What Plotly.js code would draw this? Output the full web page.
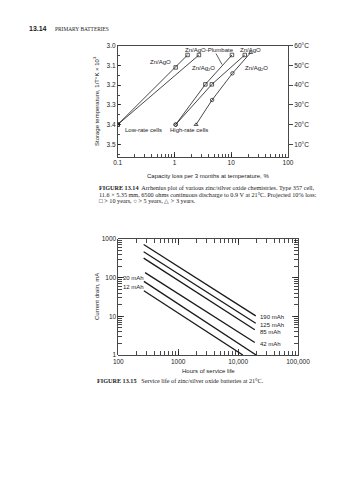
<!DOCTYPE html>
<html><head><meta charset="utf-8">
<script src="https://cdn.plot.ly/plotly-3.0.1.min.js"></script>
<style>html,body{margin:0;padding:0;background:#fff}</style>
</head><body><div id="chart" style="width:358px;height:480px"></div>
<script>
// ---------- FIGURE 13.14 (Arrhenius plot) ----------
const tempTickVals = [3.0, 3.1, 3.2, 3.3, 3.4, 3.5];
const tempTickText = ['3.0', '3.1', '3.2', '3.3', '3.4', '3.5'];
const celsiusTickText = ['60°C', '50°C', '40°C', '30°C', '20°C', '10°C'];
const lossTickVals = [0.1, 1, 10, 100];
const lossTickText = ['0.1', '1', '10', '100'];

const lowAgO_loss = [0.1, 1.05, 1.7];
const lowAgO_temp = [3.40, 3.11, 3.047];
const lowAgO_sym = ['square-open', 'square-open', 'square-open'];

const lowAg2O_loss = [0.1, 2.7];
const lowAg2O_temp = [3.40, 3.047];
const lowAg2O_sym = ['square-open', 'square-open'];

const highPlumbate_loss = [1.05, 3.5, 10.3];
const highPlumbate_temp = [3.40, 3.196, 3.047];
const highPlumbate_sym = ['circle-open', 'square-open', 'square-open'];

const highAgO_loss = [1.05, 4.55, 17.3];
const highAgO_temp = [3.40, 3.196, 3.047];
const highAgO_sym = ['circle-open', 'square-open', 'square-open'];

const highAg2O_loss = [2.4, 4.6, 10.5, 22];
const highAg2O_temp = [3.40, 3.275, 3.14, 3.035];
const highAg2O_sym = ['triangle-up-open', 'circle-open', 'circle-open', 'triangle-up-open'];

// ---------- FIGURE 13.15 (service life) ----------
const hoursTickVals = [100, 1000, 10000, 100000];
const hoursTickText = ['100', '1000', '10,000', '100,000'];
const drainTickVals = [1, 10, 100, 1000];
const drainTickText = ['1', '10', '100', '1000'];
const capacityLabels = ['190 mAh', '125 mAh', '85 mAh', '42 mAh', '20 mAh', '12 mAh'];
const hours190 = [265, 19700];  const drain190 = [720, 10.3];
const hours125 = [265, 19700];  const drain125 = [470, 6.6];
const hours85  = [265, 19000];  const drain85  = [320, 4.5];
const hours42  = [280, 19000];  const drain42  = [135, 2.1];
const hours20  = [267, 20000];  const drain20  = [80, 1];
const hours12  = [267, 12000];  const drain12  = [46, 1];

// ---------- helpers (pixel -> paper) ----------
const W = 358, H = 480;
const px = v => v / W;
const py = v => 1 - v / H;
const SANS = 'Liberation Sans, Arial, sans-serif';
const SERIF = 'Liberation Serif, Times New Roman, serif';
const INK = '#1a1a1a';

function arrLine(x, y, sym) {
  return {
    x: x, y: y, xaxis: 'x', yaxis: 'y', type: 'scatter', mode: 'lines+markers',
    line: {color: INK, width: 0.8},
    marker: {symbol: sym, size: 3.5, color: INK, line: {width: 0.7, color: INK}},
    showlegend: false, hoverinfo: 'skip'
  };
}
function lifeLine(x, y) {
  return {
    x: x, y: y, xaxis: 'x2', yaxis: 'y2', type: 'scatter', mode: 'lines',
    line: {color: INK, width: 1.3}, showlegend: false, hoverinfo: 'skip'
  };
}

const data = [
  arrLine(lowAgO_loss, lowAgO_temp, lowAgO_sym),
  arrLine(lowAg2O_loss, lowAg2O_temp, lowAg2O_sym),
  arrLine(highPlumbate_loss, highPlumbate_temp, highPlumbate_sym),
  arrLine(highAgO_loss, highAgO_temp, highAgO_sym),
  arrLine(highAg2O_loss, highAg2O_temp, highAg2O_sym),
  {x: [lossTickVals[0]], y: [tempTickVals[0]], xaxis: 'x', yaxis: 'y3', type: 'scatter', mode: 'markers',
   marker: {opacity: 0}, showlegend: false, hoverinfo: 'skip'},
  lifeLine(hours190, drain190),
  lifeLine(hours125, drain125),
  lifeLine(hours85, drain85),
  lifeLine(hours42, drain42),
  lifeLine(hours20, drain20),
  lifeLine(hours12, drain12)
];

const tickFont = {family: SANS, size: 6.5, color: INK};
const axCommon = {showgrid: false, zeroline: false, showline: true, linecolor: INK, linewidth: 0.8,
  tickcolor: INK, tickwidth: 0.8, tickfont: tickFont};

function ann(text, x, y, xa, opts) {
  return Object.assign({text: text, x: px(x), y: py(y), xref: 'paper', yref: 'paper',
    xanchor: xa || 'center', yanchor: 'middle', showarrow: false,
    font: {family: SANS, size: 6, color: INK}}, opts || {});
}
const capFont = {family: SERIF, size: 6.2, color: INK};

const annotations = [
  // header
  ann('<b>13.14</b>', 26.5, 28.7, 'left', {font: {family: SANS, size: 7, color: INK}}),
  ann('PRIMARY BATTERIES', 52.5, 28.9, 'left', {font: {family: SERIF, size: 5.4, color: INK}}),
  // figure 13.14 labels
  ann('Zn/AgO', 173, 62, 'right'),
  ann('Zn/Ag<sub>2</sub>O', 190, 68.5, 'left'),
  ann('Zn/AgO-Plumbate', 183, 50, 'left'),
  ann('Zn/AgO', 238, 50, 'left'),
  ann('Zn/Ag<sub>2</sub>O', 243, 68.5, 'left'),
  ann('Low-rate cells', 123, 129.5, 'left'),
  ann('High-rate cells', 168, 129.5, 'left'),
  ann('Storage temperature, 1/T°K × 10<sup>3</sup>', 96, 101, 'center', {textangle: -90}),
  ann('Capacity loss per 3 months at temperature, %', 208, 176, 'center'),
  // caption 13.14
  ann('<b>FIGURE 13.14</b>  Arrhenius plot of various zinc/silver oxide chemistries. Type 357 cell,', 96.5, 187.3, 'left', {font: capFont}),
  ann('11.6 × 5.35 mm, 6500 ohms continuous discharge to 0.9 V at 21°C. Projected 10% loss:', 96.5, 194.3, 'left', {font: capFont}),
  ann('□ > 10 years, ○ > 5 years, △ > 3 years.', 96.5, 200.8, 'left', {font: capFont}),
  // figure 13.15 labels
  ann(capacityLabels[0], 258, 316.7, 'left'),
  ann(capacityLabels[1], 258, 324.5, 'left'),
  ann(capacityLabels[2], 258, 331.7, 'left'),
  ann(capacityLabels[3], 258, 344, 'left'),
  ann(capacityLabels[4], 146, 277.7, 'right'),
  ann(capacityLabels[5], 146, 287, 'right'),
  ann('Current drain, mA', 97, 297, 'center', {textangle: -90}),
  ann('Hours of service life', 208, 370.5, 'center'),
  ann('<b>FIGURE 13.15</b>   Service life of zinc/silver oxide batteries at 21°C.', 95, 380.7, 'left', {font: capFont})
];

const layout = {
  width: W, height: H, margin: {l: 0, r: 0, t: 0, b: 0},
  paper_bgcolor: '#fff', plot_bgcolor: '#fff', showlegend: false,
  font: {family: SANS, color: INK},
  xaxis: Object.assign({}, axCommon, {
    domain: [px(117.7), px(288)], anchor: 'y', type: 'log', range: [-1, 2],
    tickmode: 'array', tickvals: lossTickVals, ticktext: lossTickText,
    ticks: 'inside', ticklen: 5, mirror: true,
    minor: {dtick: 'D1', ticks: 'inside', ticklen: 3, tickwidth: 0.8, tickcolor: INK, showgrid: false}
  }),
  yaxis: Object.assign({}, axCommon, {
    domain: [py(156.7), py(45.7)], anchor: 'x', range: [3.5626, 3.0],
    tickmode: 'array', tickvals: tempTickVals, ticktext: tempTickText,
    ticks: 'inside', ticklen: 3, mirror: true,
    minor: {dtick: 0.05, tick0: 3.0, ticks: 'inside', ticklen: 2, tickwidth: 0.8, tickcolor: INK, showgrid: false}
  }),
  yaxis3: Object.assign({}, axCommon, {
    overlaying: 'y', side: 'right', anchor: 'x', range: [3.5626, 3.0], showline: false,
    tickmode: 'array', tickvals: tempTickVals, ticktext: celsiusTickText,
    ticks: 'outside', ticklen: 4
  }),
  xaxis2: Object.assign({}, axCommon, {
    domain: [px(118.3), px(298)], anchor: 'y2', type: 'log', range: [2, 5],
    tickmode: 'array', tickvals: hoursTickVals, ticktext: hoursTickText,
    ticks: 'inside', ticklen: 6, mirror: 'allticks',
    minor: {dtick: 'D1', ticks: 'inside', ticklen: 4, tickwidth: 0.8, tickcolor: INK, showgrid: false}
  }),
  yaxis2: Object.assign({}, axCommon, {
    domain: [py(355), py(239)], anchor: 'x2', type: 'log', range: [0, 3],
    tickmode: 'array', tickvals: drainTickVals, ticktext: drainTickText,
    ticks: 'inside', ticklen: 6, mirror: 'allticks',
    minor: {dtick: 'D1', ticks: 'inside', ticklen: 4, tickwidth: 0.8, tickcolor: INK, showgrid: false}
  }),
  shapes: [
    {type: 'line', xref: 'paper', yref: 'paper', x0: px(216), y0: py(53.5), x1: px(222), y1: py(64.5),
     line: {color: INK, width: 0.7}}
  ],
  annotations: annotations
};

Plotly.newPlot('chart', data, layout, {staticPlot: true, displayModeBar: false});
</script></body></html>
